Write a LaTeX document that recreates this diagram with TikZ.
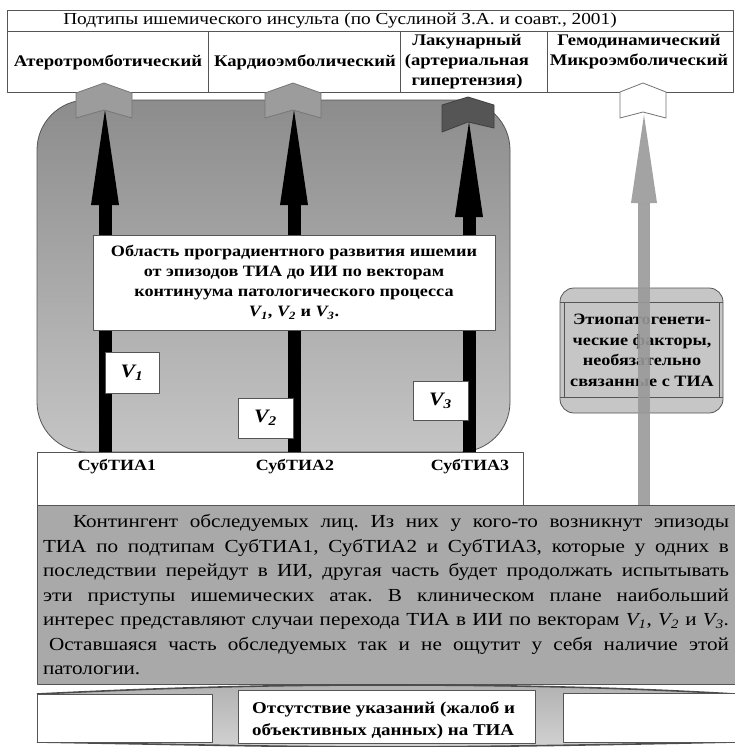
\documentclass[tikz,border=0pt]{standalone}
\usepackage{fontspec}
\setmainfont{Liberation Serif}[FakeStretch=1.15]
\usetikzlibrary{arrows.meta}
\definecolor{edgegray}{HTML}{555555}
\definecolor{chevlight}{HTML}{9C9C9C}
\definecolor{chevdark}{HTML}{555555}
\definecolor{boxgray}{HTML}{A9A9A9}
\definecolor{etiogray}{HTML}{C6C6C6}
\definecolor{arrgray}{HTML}{999999}
\tikzset{
  tbl/.style={draw=edgegray, line width=0.8pt, fill=white},
  whitebox/.style={draw=edgegray, line width=0.8pt, fill=white},
  collabel/.style={font=\bfseries\fontsize{16.2}{20}\selectfont, align=center, inner sep=0pt},
  vlabel/.style={draw=edgegray, line width=0.8pt, fill=white, font=\bfseries\itshape\fontsize{19}{22}\selectfont, inner sep=0pt},
  subtia/.style={font=\bfseries\fontsize{15.6}{18}\selectfont, inner sep=0pt},
  blackarrow/.style={line width=13pt, draw=black, -{Triangle[width=28pt,length=95pt,line width=0pt]}},
  grayarrow/.style={line width=12pt, draw=arrgray, opacity=0.9, -{Triangle[width=26pt,length=88pt,line width=0pt]}},
  chevron/.style={draw=edgegray!80, line width=0.8pt},
}
\frenchspacing
\begin{document}
\begin{tikzpicture}[x=1pt,y=-1pt, line join=round]
\useasboundingbox (0,0) rectangle (735,747);
\fill[white] (0,0) rectangle (735,747);

% ---------- table of subtypes ----------
\node[tbl, minimum width=726pt, minimum height=21pt, inner sep=0pt, anchor=north west] (hdr) at (7,10) {};
\node[font=\fontsize{16.8}{18}\selectfont, inner sep=0pt] (hdrtext) at (340,20.5) {Подтипы ишемического инсульта (по Суслиной З.А. и соавт., 2001)};
\node[tbl, minimum width=201pt, minimum height=61pt, inner sep=0pt, anchor=north west] (c1) at (7,31) {};
\node[tbl, minimum width=192pt, minimum height=61pt, inner sep=0pt, anchor=north west] (c2) at (208,31) {};
\node[tbl, minimum width=147pt, minimum height=61pt, inner sep=0pt, anchor=north west] (c3) at (400,31) {};
\node[tbl, minimum width=186pt, minimum height=61pt, inner sep=0pt, anchor=north west] (c4) at (547,31) {};
\node[collabel] (l1) at (108,62) {Атеротромботический};
\node[collabel] (l2) at (305,62) {Кардиоэмболический};
\node[collabel, anchor=north] (l3) at (467,34) {Лакунарный\\(артериальная\\гипертензия)};
\node[collabel, anchor=north] (l4) at (639,34) {Гемодинамический\\Микроэмболический};

% ---------- big rounded area ----------
\shade[top color=black!45, bottom color=black!23, draw=edgegray, line width=0.8pt, rounded corners=50pt]
  (37,100) rectangle (510,452);

% ---------- arrow end points ----------
\coordinate (s1) at (105,452);
\coordinate (t1) at (105,110);
\coordinate (s2) at (294,452);
\coordinate (t2) at (294,110);
\coordinate (s3) at (469,452);
\coordinate (t3) at (469,122);
\coordinate (s4) at (644,505);
\coordinate (t4) at (644,115);

\draw[blackarrow] (s1) -- (t1);
\draw[blackarrow] (s2) -- (t2);
\draw[blackarrow] (s3) -- (t3);

% ---------- chevrons ----------
\fill[chevlight] (104,83) -- (132,93) -- (132,118) -- (104,110) -- (76,118) -- (76,93) -- cycle;
\draw[chevron] (104,83) -- (132,93) -- (132,118) -- (104,110) -- (76,118) -- (76,93) -- cycle;
\fill[chevlight] (293,83) -- (321,93) -- (321,118) -- (293,110) -- (265,118) -- (265,93) -- cycle;
\draw[chevron] (293,83) -- (321,93) -- (321,118) -- (293,110) -- (265,118) -- (265,93) -- cycle;
\fill[chevdark] (468,97) -- (494,105) -- (494,128) -- (468,122) -- (442,132) -- (442,105) -- cycle;
\draw[chevron, draw=black!75] (468,97) -- (494,105) -- (494,128) -- (468,122) -- (442,132) -- (442,105) -- cycle;
\fill[white] (643,83) -- (666,92) -- (666,118) -- (643,112) -- (620,118) -- (620,92) -- cycle;
\draw[chevron, draw=black!55] (643,83) -- (666,92) -- (666,118) -- (643,112) -- (620,118) -- (620,92) -- cycle;

% ---------- central text box ----------
\node[whitebox, minimum width=402pt, minimum height=95pt, inner sep=0pt,
      font=\bfseries\fontsize{15.8}{20}\selectfont, align=center] (area) at (294,282.5)
  {Область проградиентного развития ишемии\\от эпизодов ТИА до ИИ по векторам\\континуума патологического процесса\\{\itshape V}\textsubscript{\itshape 1}, {\itshape V}\textsubscript{\itshape 2} и {\itshape V}\textsubscript{\itshape 3}.};

% ---------- vector labels ----------
\node[vlabel, minimum width=54pt, minimum height=41pt] (v1) at (132,372.5) {V\textsubscript{1}};
\node[vlabel, minimum width=55pt, minimum height=40pt] (v2) at (265.5,418) {V\textsubscript{2}};
\node[vlabel, minimum width=55pt, minimum height=39pt] (v3) at (440.5,400.5) {V\textsubscript{3}};

% ---------- etiopathogenetic box ----------
\filldraw[fill=etiogray, draw=edgegray, line width=0.8pt, rounded corners=14pt] (560,288) rectangle (723,413);
\draw[edgegray, line width=0.8pt] (560,302) -- (723,302) (560,397) -- (723,397) (564,302) -- (564,397) (719,302) -- (719,397);
\node[font=\bfseries\fontsize{15.8}{20.5}\selectfont, align=center, inner sep=0pt] (etio) at (642,350.5)
  {Этиопатогенети-\\ческие факторы,\\необязательно\\связанные с ТИА};

\draw[grayarrow] (s4) -- (t4);

% ---------- SubTIA box ----------
\node[whitebox, minimum width=486pt, minimum height=53pt, inner sep=0pt, anchor=north west] (subbox) at (37,452) {};
\node[subtia] (sub1) at (117,467) {СубТИА1};
\node[subtia] (sub2) at (295,467) {СубТИА2};
\node[subtia] (sub3) at (470,467) {СубТИА3};

% ---------- contingent box ----------
\node[draw=edgegray, line width=0.8pt, fill=boxgray, minimum width=698pt, minimum height=179pt,
      inner sep=0pt, anchor=north west] (cont) at (37,505) {};
\node[text width=686pt, align=justify, inner sep=0pt, font=\fontsize{18.4}{24.5}\selectfont] (conttext) at (386,595)
  {\hspace*{30pt}Контингент обследуемых лиц. Из них у кого-то возникнут эпизоды\linebreak
   ТИА по подтипам СубТИА1, СубТИА2 и СубТИА3, которые у одних в\linebreak
   последствии перейдут в ИИ, другая часть будет продолжать испытывать\linebreak
   эти приступы ишемических атак. В клиническом плане наибольший\linebreak
   интерес представляют случаи перехода ТИА в ИИ по векторам {\itshape V}\textsubscript{\itshape 1}, {\itshape V}\textsubscript{\itshape 2} и {\itshape V}\textsubscript{\itshape 3}.\linebreak
   \hspace*{6pt}Оставшаяся часть обследуемых так и не ощутит у себя наличие этой\linebreak
   патологии.};

% ---------- bottom band ----------
\shade[top color=black!30, bottom color=black!18]
  (37,694) .. controls (200,686) and (300,685) .. (386,685) .. controls (470,685) and (600,686) .. (735,694)
  -- (735,742) .. controls (600,745) and (470,747) .. (386,747) .. controls (300,747) and (200,745) .. (37,742) -- cycle;
\draw[black!70, line width=1.6pt]
  (37,694) .. controls (200,686) and (300,685) .. (386,685) .. controls (470,685) and (600,686) .. (735,694);
\draw[black!70, line width=1.6pt]
  (37,742) .. controls (200,745) and (300,747) .. (386,747) .. controls (470,747) and (600,745) .. (735,742);
\node[whitebox, minimum width=175pt, minimum height=48pt, inner sep=0pt, anchor=north west] (bl) at (37,694) {};
\node[whitebox, minimum width=172pt, minimum height=49pt, inner sep=0pt, anchor=north west] (br) at (563,693) {};
\node[whitebox, minimum width=297pt, minimum height=53pt, inner sep=0pt, anchor=north west] (bm) at (238,690) {};
\node[font=\bfseries\fontsize{16.5}{22}\selectfont, align=left, inner sep=0pt, anchor=west] (bmtext) at (252,720)
  {Отсутствие указаний (жалоб и\\объективных данных) на ТИА};
\end{tikzpicture}
\end{document}
